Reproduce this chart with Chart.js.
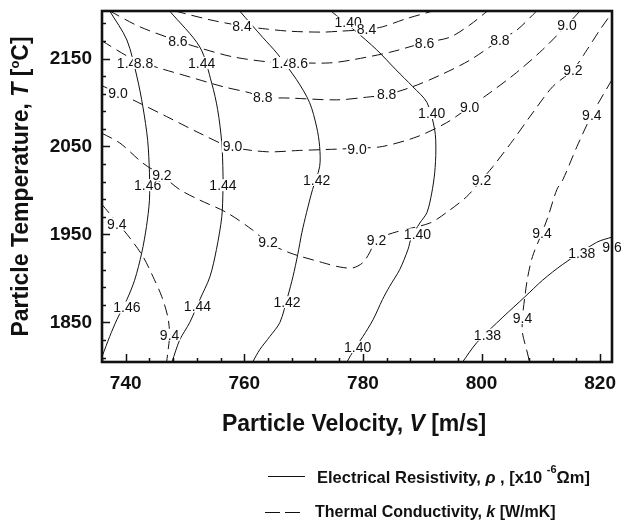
<!DOCTYPE html>
<html>
<head>
<meta charset="utf-8">
<script src="https://cdn.jsdelivr.net/npm/chart.js@4.4.1/dist/chart.umd.min.js"></script>
<style>
  html, body { margin: 0; padding: 0; background: #fff; }
</style>
</head>
<body>
<canvas id="contourChart" width="621" height="525"></canvas>
<script>
// Axis ticks
const velocityTicks = [740, 760, 780, 800, 820];
const temperatureTicks = [1850, 1950, 2050, 2150];

// Electrical resistivity contours [V (m/s), T (°C)]
const rhoLevels = ['1.46', '1.44', '1.42', '1.40', '1.38'];
const rho146 = [[737.3,2204],[740.2,2171],[741.9,2129],[742.9,2095],[743.7,2057],[744.0,2020],[744.0,1989],[743.5,1959],[742.7,1929],[741.5,1898],[740.2,1876],[738.5,1853],[737.3,1834],[736,1811]];
const rho144 = [[747.4,2204],[752.5,2163],[754.5,2122],[755.5,2092],[756.2,2054],[756.4,2020],[756.4,2001],[756.2,1970],[755.3,1933],[754.2,1902],[752.5,1876],[750.8,1850],[749.1,1830],[747.8,1805]];
const rho142 = [[759.2,2204],[763.1,2174],[765.5,2156],[768.8,2126],[771.0,2100],[772.2,2072],[772.7,2050],[772.7,2027],[771.5,2001],[770.5,1975],[769.7,1952],[769.0,1927],[768.2,1902],[767.3,1879],[766.0,1850],[764.3,1834],[762.6,1819],[761.4,1805]];
const rho140 = [[774.6,2204],[778.6,2182],[782.3,2160],[785.6,2137],[788.4,2118],[790.8,2100],[792.1,2069],[792.3,2046],[792.1,2020],[791.6,1997],[790.8,1975],[789.6,1963],[788.2,1947],[787.6,1933],[786.2,1910],[784.5,1891],[783.3,1876],[781.7,1853],[780.0,1834],[778.6,1820],[777.3,1805]];
const rho138 = [[796.8,1805],[799.2,1827],[803.6,1856],[807.3,1879],[810.3,1898],[813.7,1916],[819.4,1941],[822,1947]];

// Thermal conductivity contours [V (m/s), T (°C)]
const kLevels = ['8.4', '8.6', '8.8', '9.0', '9.2', '9.4', '9.4'];
const k84 = [[748.3,2204],[754.2,2194],[759.6,2187],[763.1,2184],[767.7,2181],[773.2,2180],[776.0,2181],[780.6,2183],[783.3,2186],[787.2,2195],[791.8,2204]];
const k86 = [[737.3,2204],[742.4,2186],[748.8,2170],[752.5,2162],[758.0,2152],[764.3,2146],[769.3,2145],[774.4,2145],[777.8,2148],[784.5,2157],[790.4,2168],[794.6,2174],[798.0,2188],[801.0,2204]];
const k88 = [[736,2170],[740.7,2151],[742.9,2145],[745.7,2139],[750.8,2129],[756.4,2118],[760.9,2111],[763.1,2106],[767.7,2105],[775.6,2103],[780.6,2106],[784.0,2109],[788.4,2118],[793.0,2131],[798.0,2148],[803.1,2171],[805.9,2182],[809.3,2204]];
const k90 = [[736,2119],[738.7,2111],[741.2,2103],[746.9,2084],[752.5,2065],[757.5,2050],[763.8,2044],[769.3,2045.5],[775.6,2047],[779.0,2048],[783.3,2050],[789.1,2061],[794.1,2077],[798.0,2095],[801.4,2111],[805.9,2134],[810.3,2160],[814.4,2188],[816.6,2204]];
const k92 = [[736,2065],[739.0,2054],[742.9,2031],[746.1,2017],[749.1,2001],[752.5,1989],[757.0,1975],[761.4,1955],[763.9,1941],[767.7,1929],[773.2,1918],[776.1,1913],[778.3,1912],[780.0,1918],[781.1,1929],[782.3,1944],[785.7,1953],[791.3,1963],[794.1,1975],[797.5,1993],[800.0,2012],[801.9,2027],[805.3,2057],[808.6,2088],[812.0,2118],[815.4,2137],[817.8,2160],[819.9,2182],[822,2202]];
const k94a = [[736,1984],[738.5,1964],[740.7,1946],[742.9,1925],[744.6,1902],[746.1,1879],[747.1,1856],[747.4,1836],[747.1,1816],[746.9,1805]];
const k94b = [[822,2126],[818.6,2086],[816.1,2050],[813.7,2012],[812.7,2001],[811.2,1970],[810.2,1952],[808.6,1925],[807.8,1902],[807.3,1879],[806.9,1855],[806.9,1838],[807.6,1819],[808.1,1805]];

// In-line contour labels [text, V, T]
const rhoLabels = [
  ['1.46',740.8,2145],['1.46',743.7,2006],['1.46',740.2,1867],
  ['1.44',752.8,2145],['1.44',756.4,2006],['1.44',752.1,1868],
  ['1.42',766.9,2145],['1.42',772.2,2012],['1.42',767.2,1873],
  ['1.40',777.5,2191],['1.40',791.6,2088],['1.40',789.2,1950],['1.40',779.1,1822],
  ['1.38',801.0,1836],['1.38',816.9,1929]
];
const kLabels = [
  ['8.4',759.6,2187],['8.4',780.6,2183],
  ['8.6',748.8,2170],['8.6',769.1,2145],['8.6',790.4,2168],
  ['8.8',743.0,2145],['8.8',763.1,2106],['8.8',784.0,2109],['8.8',803.1,2171],
  ['9.0',738.7,2111],['9.0',758.0,2050],['9.0',779.0,2047],['9.0',798.0,2095],['9.0',814.4,2188],
  ['9.2',746.1,2017],['9.2',764.0,1941],['9.2',782.3,1944],['9.2',800.0,2012],['9.2',815.4,2137],
  ['9.4',738.5,1962],['9.4',747.4,1836],['9.4',818.6,2086],['9.4',810.2,1952],['9.4',806.9,1855],
  ['9.6',822.0,1935]
];

const FONT = '"Liberation Sans", Arial, Helvetica, sans-serif';
const INK = '#111';

function contourSet(points, label, dashed) {
  return {
    label: label,
    data: points.map(([x, y]) => ({ x, y })),
    showLine: true,
    borderColor: INK,
    borderWidth: 1,
    borderDash: dashed ? [11, 6] : [],
    pointRadius: 0,
    tension: 0.3,
    fill: false
  };
}

const datasets = [
  ...[rho146, rho144, rho142, rho140, rho138].map((p, i) => contourSet(p, rhoLevels[i], false)),
  ...[k84, k86, k88, k90, k92, k94a, k94b].map((p, i) => contourSet(p, kLevels[i], true))
];

// draws a row of text pieces with mixed fonts, starting at x
function drawRuns(ctx, runs, x, y) {
  runs.forEach(([txt, font, dy]) => {
    ctx.font = font;
    ctx.fillText(txt, x, y + (dy || 0));
    x += ctx.measureText(txt).width;
  });
}
function runsWidth(ctx, runs) {
  return runs.reduce((w, [txt, font]) => { ctx.font = font; return w + ctx.measureText(txt).width; }, 0);
}

// contour labels sit on a white patch that breaks the line
const contourLabels = {
  id: 'contourLabels',
  afterDatasetsDraw(chart) {
    const { ctx, scales: { x, y } } = chart;
    ctx.save();
    ctx.font = '14px ' + FONT;
    ctx.textAlign = 'center';
    ctx.textBaseline = 'middle';
    [...rhoLabels, ...kLabels].forEach(([txt, v, t]) => {
      const px = x.getPixelForValue(v);
      const py = y.getPixelForValue(t);
      const w = ctx.measureText(txt).width;
      ctx.fillStyle = '#fff';
      ctx.fillRect(px - w / 2 - 1, py - 6, w + 2, 12);
      ctx.fillStyle = INK;
      ctx.fillText(txt, px, py + 1);
    });
    ctx.restore();
  }
};

// frame plus inward major/minor ticks
const frameAndTicks = {
  id: 'frameAndTicks',
  afterDraw(chart) {
    const { ctx, chartArea: a, scales: { x, y } } = chart;
    ctx.save();
    ctx.strokeStyle = INK;
    ctx.lineWidth = 1.5;
    ctx.beginPath();
    for (let v = 736; v <= 822; v += 4) {
      const px = Math.round(x.getPixelForValue(v)) + 0.5;
      const len = velocityTicks.includes(v) ? 8 : 4;
      ctx.moveTo(px, a.bottom);
      ctx.lineTo(px, a.bottom - len);
    }
    for (let t = 1810; t <= 2190; t += 20) {
      const py = Math.round(y.getPixelForValue(t)) + 0.5;
      const len = temperatureTicks.includes(t) ? 8 : 4;
      ctx.moveTo(a.left, py);
      ctx.lineTo(a.left + len, py);
    }
    ctx.stroke();
    ctx.lineWidth = 2.6;
    ctx.strokeRect(a.left, a.top, a.right - a.left, a.bottom - a.top);
    ctx.restore();
  }
};

// axis titles and the line-style key
const titlesAndLegend = {
  id: 'titlesAndLegend',
  afterDraw(chart) {
    const { ctx, chartArea: a } = chart;
    const B23 = 'bold 23px ' + FONT, BI23 = 'italic bold 23px ' + FONT;
    const B16 = 'bold 16px ' + FONT, BI16 = 'italic bold 16px ' + FONT;
    const B17 = 'bold 16.5px ' + FONT, BI17 = 'italic bold 16.5px ' + FONT;
    ctx.save();
    ctx.fillStyle = INK;
    ctx.textAlign = 'left';
    ctx.textBaseline = 'middle';

    const xTitle = [['Particle Velocity, ', B23], ['V', BI23], [' [m/s]', B23]];
    drawRuns(ctx, xTitle, (a.left + a.right) / 2 - 3 - runsWidth(ctx, xTitle) / 2, 425);

    const yTitle = [['Particle Temperature, ', B23], ['T', BI23], [' [', B23], ['o', 'bold 13px ' + FONT, -7], ['C]', B23]];
    ctx.save();
    ctx.translate(22, (a.top + a.bottom) / 2);
    ctx.rotate(-Math.PI / 2);
    drawRuns(ctx, yTitle, -runsWidth(ctx, yTitle) / 2, 0);
    ctx.restore();

    ctx.strokeStyle = INK;
    ctx.lineWidth = 1.2;
    ctx.beginPath();
    ctx.moveTo(268, 476.5);
    ctx.lineTo(305, 476.5);
    ctx.stroke();
    ctx.setLineDash([15, 5]);
    ctx.beginPath();
    ctx.moveTo(265, 512.5);
    ctx.lineTo(300, 512.5);
    ctx.stroke();
    ctx.setLineDash([]);

    drawRuns(ctx, [['Electrical Resistivity, ', B17], ['\u03C1', BI17], [' , [x10 ', B17], ['-6', 'bold 11px ' + FONT, -8], ['\u03A9m]', B17]], 317, 478);
    drawRuns(ctx, [['Thermal Conductivity, ', B16], ['k', BI16], [' [W/mK]', B16]], 315, 513);
    ctx.restore();
  }
};

const tickFont = { family: FONT, size: 19, weight: 'bold' };

// keep the plot frame fixed: no extra room for overhanging tick labels
function noOverhang(s) {
  s.paddingLeft = 0;
  s.paddingRight = 0;
  s.paddingTop = 0;
  s.paddingBottom = 0;
}

new Chart(document.getElementById('contourChart').getContext('2d'), {
  type: 'scatter',
  data: { datasets },
  options: {
    responsive: false,
    animation: false,
    layout: { padding: { top: 11, right: 9, bottom: 113, left: 0 } },
    plugins: {
      legend: { display: false },
      tooltip: { enabled: false }
    },
    scales: {
      x: {
        type: 'linear',
        min: 736,
        max: 822,
        afterBuildTicks: s => { s.ticks = velocityTicks.map(v => ({ value: v })); },
        afterFit: s => { s.height = 50; noOverhang(s); },
        grid: { display: false, drawTicks: false },
        border: { display: false },
        ticks: { font: tickFont, color: INK, padding: 10, maxRotation: 0, callback: v => String(v) }
      },
      y: {
        type: 'linear',
        min: 1805,
        max: 2204,
        afterBuildTicks: s => { s.ticks = temperatureTicks.map(v => ({ value: v })); },
        afterFit: s => { s.width = 102; noOverhang(s); },
        grid: { display: false, drawTicks: false },
        border: { display: false },
        ticks: { font: tickFont, color: INK, padding: 10, callback: v => String(v) }
      }
    }
  },
  plugins: [contourLabels, frameAndTicks, titlesAndLegend]
});
</script>
</body>
</html>
